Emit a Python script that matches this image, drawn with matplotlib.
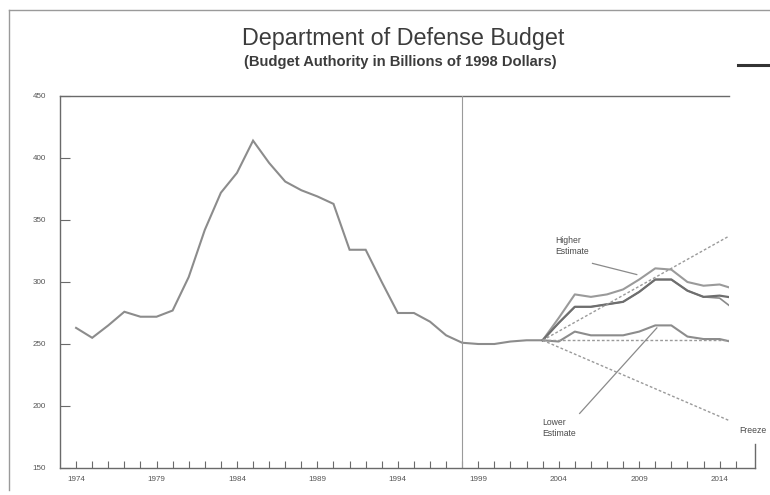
import matplotlib
matplotlib.use("Agg")
import matplotlib.pyplot as plt
from matplotlib.patches import Rectangle
from matplotlib.lines import Line2D

plt.rcParams['font.family'] = ['Liberation Sans', 'DejaVu Sans']

# ---- data ----
hist_years = list(range(1974, 2004))
hist_vals = [263, 255, 265, 276, 272, 272, 277, 304, 342, 372, 388, 414, 396, 381,
             374, 369, 363, 326, 326, 300, 275, 275, 268, 257, 251, 250, 250, 252,
             253, 253]

proj_years = list(range(2003, 2016))
higher_top = [253, 271, 290, 288, 290, 294, 302, 311, 310, 300, 297, 298, 294]
higher_mid = [253, 267, 280, 280, 282, 284, 292, 302, 302, 293, 288, 289, 287]
higher_alt = [253, 267, 280, 280, 282, 284, 292, 302, 302, 293, 288, 287, 277]
lower_est = [253, 252, 260, 257, 257, 257, 260, 265, 265, 256, 254, 254, 251]

dash_years = [2003, 2015]
dash_up = [253, 340]
dash_flat = [253, 253]
dash_freeze = [253, 186]

y_ticks = [150, 200, 250, 300, 350, 400, 450]
x_label_years = [1974, 1979, 1984, 1989, 1994, 1999, 2004, 2009, 2014]
divider_year = 1998

title = "Department of Defense Budget"
subtitle = "(Budget Authority in Billions of 1998 Dollars)"

# ---- figure ----
W, H = 770, 495
fig = plt.figure(figsize=(W / 100, H / 100), dpi=100)
fig.patch.set_facecolor('white')

ax = fig.add_axes([60 / W, 1 - 468 / H, 695 / W, (468 - 96) / H])
ax.set_xlim(1973.0, 2016.2)
ax.set_ylim(150, 450)

axc = '#6a6a6a'
linec = '#8c8c8c'

for s in ['top', 'right']:
    ax.spines[s].set_visible(False)
for s in ['left', 'bottom']:
    ax.spines[s].set_color(axc)
    ax.spines[s].set_linewidth(1.0)

# top border (stops before right edge) and right stub
ax.add_line(Line2D([0, 0.9626], [1, 1], transform=ax.transAxes, color=axc,
                   lw=1.0, clip_on=False))
ax.add_line(Line2D([1, 1], [0, 0.065], transform=ax.transAxes, color=axc,
                   lw=1.0, clip_on=False))

clip_end = 2014.58
clip = Rectangle((1973.0, 150), clip_end - 1973.0, 300, transform=ax.transData,
                 facecolor='none', edgecolor='none')
ax.add_patch(clip)

def pl(x, y, **kw):
    ln, = ax.plot(x, y, **kw)
    ln.set_clip_path(clip)
    return ln

pl(hist_years, hist_vals, color=linec, lw=1.5, solid_joinstyle='miter')
pl(proj_years, higher_top, color='#9a9a9a', lw=1.5)
pl(proj_years, higher_alt, color='#8a8a8a', lw=1.2)
pl(proj_years, higher_mid, color='#6e6e6e', lw=1.6)
pl(proj_years, lower_est, color=linec, lw=1.5)
dkw = dict(color='#9a9a9a', lw=1.0, linestyle=(0, (2.0, 1.5)))
pl(dash_years, dash_up, **dkw)
pl(dash_years, dash_flat, **dkw)
pl(dash_years, dash_freeze, **dkw)

# divider
ax.plot([divider_year, divider_year], [150, 450], color='#9a9a9a', lw=0.8)

# ticks
ax.set_yticks(y_ticks)
ax.set_yticklabels([str(v) for v in y_ticks])
ax.set_xticks(x_label_years)
ax.set_xticklabels([str(v) for v in x_label_years])
ax.set_xticks(list(range(1974, 2016)), minor=True)
ax.tick_params(axis='y', direction='in', length=7, width=0.8, colors=axc,
               labelsize=5.8, pad=10, labelcolor='#555555')
ax.tick_params(axis='x', which='both', direction='in', length=5, width=0.8,
               colors=axc, labelsize=5.8, pad=6, labelcolor='#555555')

# annotations
tc = '#4a4a4a'
afs = 6.2
ax.text(2003.8, 337, "Higher\nEstimate", fontsize=afs, color=tc, va='top',
        ha='left', linespacing=1.2)
ax.plot([2006.1, 2008.85], [315, 306], color='#8a8a8a', lw=0.9)
ax.text(2003.0, 190, "Lower\nEstimate", fontsize=afs, color=tc, va='top',
        ha='left', linespacing=1.2)
ax.plot([2005.3, 2010.1], [194, 263], color='#8a8a8a', lw=0.9)
ax.text(2015.25, 180.5, "Freeze", fontsize=afs, color=tc, va='center',
        ha='left', clip_on=False)

# titles
fig.text(403 / W, 1 - 38 / H, title, fontsize=16.8, color='#3c3c3c',
         ha='center', va='center')
fig.text(400 / W, 1 - 62 / H, subtitle, fontsize=10.6, color='#3c3c3c',
         ha='center', va='center', fontweight='bold')

# scan frame
fig.add_artist(Line2D([9 / W, 9 / W], [1 - 490 / H, 1 - 10 / H], color='#9a9a9a',
                      lw=1.0, transform=fig.transFigure))
fig.add_artist(Line2D([9 / W, 1.0], [1 - 10 / H, 1 - 10 / H], color='#9a9a9a',
                      lw=1.0, transform=fig.transFigure))
fig.add_artist(Line2D([738 / W, 1.0], [1 - 65 / H, 1 - 65 / H], color='#333333',
                      lw=2.2, transform=fig.transFigure))

fig.savefig("out.png", dpi=100, facecolor='white')
